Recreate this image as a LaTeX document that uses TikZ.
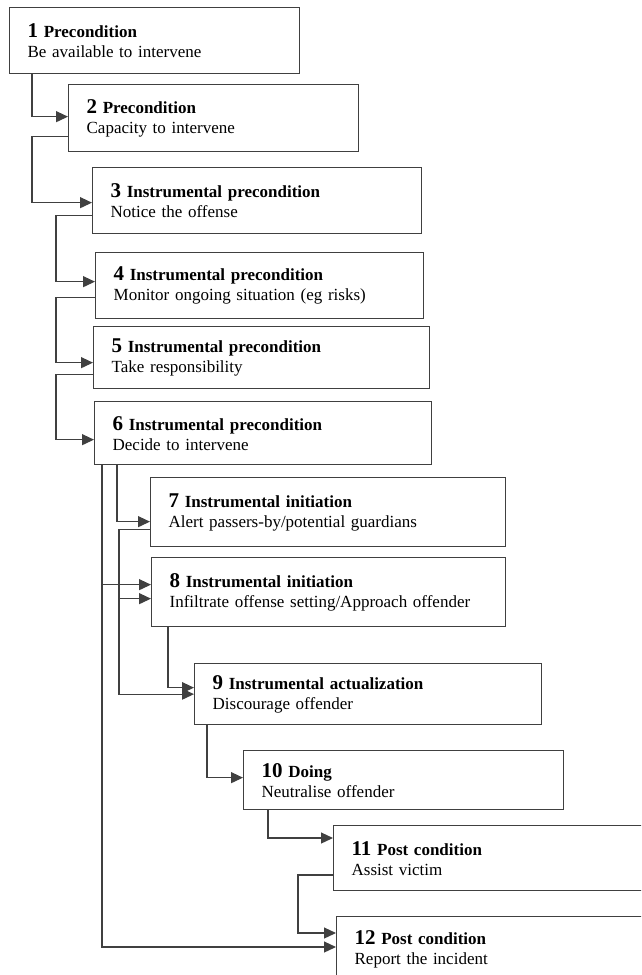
\documentclass[tikz,border=0pt]{standalone}
\usepackage{fontspec}
\setmainfont{Liberation Serif}
\usetikzlibrary{arrows.meta}
\newcommand{\stepno}[1]{{\fontsize{21}{20}\selectfont\bfseries #1}}

\begin{document}
\begin{tikzpicture}[x=1pt, y=-1pt,
    stage/.style={draw=black!75, line width=1.3pt, anchor=north west, align=left,
        inner xsep=18pt, inner ysep=0pt, font=\fontsize{17}{20}\selectfont},
    flow/.style={draw=black!75, line width=1.2pt, -{Triangle[length=12pt,width=11pt]}}]
  \useasboundingbox (0,0) rectangle (641,975);
  \clip (0,0) rectangle (641,975);

  \node[stage, text width=254pt, minimum height=66pt] (s1) at (9,7) {\stepno{1} \textbf{Precondition}\\Be available to intervene};
  \node[stage, text width=254pt, minimum height=67pt] (s2) at (68,84) {\stepno{2} \textbf{Precondition}\\Capacity to intervene};
  \node[stage, text width=293pt, minimum height=66pt] (s3) at (92,167) {\stepno{3} \textbf{Instrumental precondition}\\Notice the offense};
  \node[stage, text width=292pt, minimum height=66pt] (s4) at (95,252) {\stepno{4} \textbf{Instrumental precondition}\\Monitor ongoing situation (eg risks)};
  \node[stage, text width=300pt, minimum height=62pt] (s5) at (93,326) {\stepno{5} \textbf{Instrumental precondition}\\Take responsibility};
  \node[stage, text width=301pt, minimum height=63pt] (s6) at (94,401) {\stepno{6} \textbf{Instrumental precondition}\\Decide to intervene};
  \node[stage, text width=319pt, minimum height=69pt] (s7) at (150,477) {\stepno{7} \textbf{Instrumental initiation}\\Alert passers-by/potential guardians};
  \node[stage, text width=318pt, minimum height=69pt] (s8) at (151,557) {\stepno{8} \textbf{Instrumental initiation}\\Infiltrate offense setting/Approach offender};
  \node[stage, text width=311pt, minimum height=61pt] (s9) at (194,663) {\stepno{9} \textbf{Instrumental actualization}\\Discourage offender};
  \node[stage, text width=284pt, minimum height=59pt] (s10) at (243,750) {\stepno{10} \textbf{Doing}\\Neutralise offender};
  \node[stage, text width=294pt, minimum height=65pt] (s11) at (333,825) {\stepno{11} \textbf{Post condition}\\Assist victim};
  \node[stage, text width=294pt, minimum height=66pt] (s12) at (336,916) {\stepno{12} \textbf{Post condition}\\Report the incident};

  \draw[flow] ([xshift=23pt]s1.south west) |- ([yshift=1.5pt]s2.west);
  \draw[flow] ([yshift=-18pt]s2.west) -- ++(-36,0) |- ([yshift=-2pt]s3.west);
  \draw[flow] ([yshift=-15pt]s3.west) -- ++(-36,0) |- ([yshift=4pt]s4.west);
  \draw[flow] ([yshift=-12pt]s4.west) -- ++(-39,0) |- ([yshift=-5pt]s5.west);
  \draw[flow] ([yshift=-17pt]s5.west) -- ++(-37,0) |- ([yshift=-6.5pt]s6.west);

  \draw[flow] ([xshift=23pt]s6.south west) |- ([yshift=-9.5pt]s7.west);
  \draw[flow] ([xshift=8pt]s6.south west) |- ([yshift=7.5pt]s8.west);
  \draw[flow] ([xshift=8pt]s6.south west) |- ([yshift=-31pt]s12.north west);

  \draw[flow] ([yshift=-17.5pt]s7.west) -- ++(-31,0) coordinate (j7) |- ([yshift=-6.5pt]s8.west);
  \draw[flow] (j7) |- (s9.west);
  \draw[flow] ([xshift=17pt]s8.south west) |- ([yshift=6.5pt]s9.west);

  \draw[flow] ([xshift=13pt]s9.south west) |- ([yshift=2.5pt]s10.west);
  \draw[flow] ([xshift=25pt]s10.south west) |- ([yshift=-13pt]s11.north west);
  \draw[flow] ([yshift=-50pt]s11.north west) -- ++(-35,0) |- ([yshift=-17pt]s12.north west);
\end{tikzpicture}
\end{document}
